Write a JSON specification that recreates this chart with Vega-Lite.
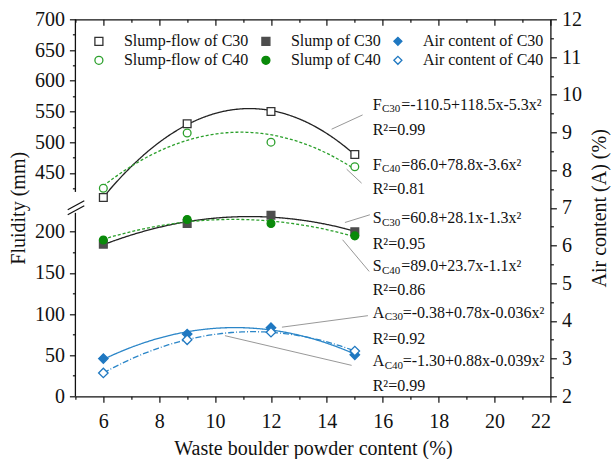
{
  "$schema": "https://vega.github.io/schema/vega-lite/v6.json",
  "width": 475,
  "height": 377,
  "autosize": "none",
  "padding": {"left": 75.4, "top": 19.3, "right": 60.6, "bottom": 62.7},
  "background": "white",
  "config": {
    "view": {"stroke": null},
    "font": "Liberation Serif",
    "axis": {
      "grid": false,
      "labelFont": "Liberation Serif",
      "labelFontSize": 20,
      "labelColor": "#111",
      "titleFont": "Liberation Serif",
      "titleFontSize": 20,
      "titleFontWeight": "normal",
      "titleColor": "#111",
      "domainColor": "#111",
      "domainWidth": 1.3,
      "tickColor": "#111",
      "tickWidth": 1.2,
      "labelOverlap": false
    },
    "legend": {
      "labelFont": "Liberation Serif",
      "labelFontSize": 16,
      "labelColor": "#111",
      "symbolSize": 64,
      "symbolStrokeWidth": 1.3,
      "labelOffset": 17,
      "columnPadding": 9,
      "rowPadding": 3,
      "padding": 0
    }
  },
  "datasets": {
    "fluid": [
      {"series": "Slump-flow of C30", "x": 6, "y": 410},
      {"series": "Slump-flow of C30", "x": 9, "y": 530},
      {"series": "Slump-flow of C30", "x": 12, "y": 550},
      {"series": "Slump-flow of C30", "x": 15, "y": 480},
      {"series": "Slump-flow of C40", "x": 6, "y": 425},
      {"series": "Slump-flow of C40", "x": 9, "y": 515},
      {"series": "Slump-flow of C40", "x": 12, "y": 500},
      {"series": "Slump-flow of C40", "x": 15, "y": 460},
      {"series": "Slump of C30", "x": 6, "y": 185},
      {"series": "Slump of C30", "x": 9, "y": 210},
      {"series": "Slump of C30", "x": 12, "y": 220},
      {"series": "Slump of C30", "x": 15, "y": 200},
      {"series": "Slump of C40", "x": 6, "y": 190},
      {"series": "Slump of C40", "x": 9, "y": 215},
      {"series": "Slump of C40", "x": 12, "y": 210},
      {"series": "Slump of C40", "x": 15, "y": 195}
    ],
    "air": [
      {"series": "Air content of C30", "x": 6, "y": 3.0},
      {"series": "Air content of C30", "x": 9, "y": 3.65},
      {"series": "Air content of C30", "x": 12, "y": 3.82},
      {"series": "Air content of C30", "x": 15, "y": 3.1},
      {"series": "Air content of C40", "x": 6, "y": 2.62},
      {"series": "Air content of C40", "x": 9, "y": 3.5},
      {"series": "Air content of C40", "x": 12, "y": 3.7},
      {"series": "Air content of C40", "x": 15, "y": 3.2}
    ],
    "axisline": [
      {"x": 5, "y": 0, "y2": 223},
      {"x": 5, "y": 419, "y2": 700}
    ],
    "breaks": [
      {"x": 4.725, "y": 6.947, "x2": 5.318, "y2": 7.186},
      {"x": 4.725, "y": 6.815, "x2": 5.318, "y2": 7.053}
    ],
    "eq": [
      {"k": "FS", "main": "F", "sub": "C30", "rest": "=-110.5+118.5x-5.3x²", "x": 15.64, "y": 9.73},
      {"k": "FS", "main": "F", "sub": "C40", "rest": "=86.0+78.8x-3.6x²", "x": 15.64, "y": 8.14},
      {"k": "FS", "main": "S", "sub": "C30", "rest": "=60.8+28.1x-1.3x²", "x": 15.64, "y": 6.72},
      {"k": "FS", "main": "S", "sub": "C40", "rest": "=89.0+23.7x-1.1x²", "x": 15.64, "y": 5.445},
      {"k": "A", "main": "A", "sub": "C30", "rest": "=-0.38+0.78x-0.036x²", "x": 15.64, "y": 4.21},
      {"k": "A", "main": "A", "sub": "C40", "rest": "=-1.30+0.88x-0.039x²", "x": 15.64, "y": 2.93}
    ],
    "r2": [
      {"t": "R²=0.99", "x": 15.64, "y": 9.07},
      {"t": "R²=0.81", "x": 15.64, "y": 7.5},
      {"t": "R²=0.95", "x": 15.64, "y": 6.05},
      {"t": "R²=0.86", "x": 15.64, "y": 4.83},
      {"t": "R²=0.92", "x": 15.64, "y": 3.52},
      {"t": "R²=0.99", "x": 15.64, "y": 2.265}
    ],
    "leaders": [
      {"x": 14.17, "y": 9.085, "x2": 15.279, "y2": 9.464},
      {"x": 14.707, "y": 8.025, "x2": 15.243, "y2": 7.654},
      {"x": 14.646, "y": 6.61, "x2": 15.54, "y2": 6.815},
      {"x": 14.563, "y": 6.152, "x2": 15.515, "y2": 5.312},
      {"x": 12.392, "y": 3.834, "x2": 15.469, "y2": 4.139},
      {"x": 10.353, "y": 3.608, "x2": 14.886, "y2": 2.821}
    ]
  },
  "layer": [
    {
      "encoding": {
        "x": {
          "field": "x", "type": "quantitative",
          "scale": {"domain": [5, 22], "nice": false, "zero": false},
          "axis": {
            "orient": "bottom",
            "title": "Waste boulder powder content (%)",
            "values": [5,6,7,8,9,10,11,12,13,14,15,16,17,18,19,20,21,22],
            "labelExpr": "datum.value % 2 == 0 ? datum.label : ''",
            "tickSize": {"condition": {"test": "datum.value % 2 == 0", "value": 6}, "value": 3},
            "labelPadding": 9,
            "titlePadding": 7
          }
        },
        "y": {
          "field": "y", "type": "quantitative",
          "scale": {"domain": [0, 234, 400, 700], "range": [377, 184.5, 184.3, 0], "nice": false, "zero": false},
          "axis": {
            "orient": "left",
            "title": "Fluidity (mm)",
            "domain": false,
            "values": [0,25,50,75,100,125,150,175,200,425,450,475,500,525,550,575,600,625,650,675,700],
            "labelExpr": "datum.value % 50 == 0 ? datum.label : ''",
            "tickSize": {"condition": {"test": "datum.value % 50 == 0", "value": 6}, "value": 3},
            "labelPadding": 5,
            "titlePadding": 6
          }
        }
      },
      "layer": [
        {
          "data": {"name": "axisline"},
          "mark": {"type": "rule", "color": "#111", "strokeWidth": 1.3},
          "encoding": {"y2": {"field": "y2"}}
        },
        {
          "data": {"name": "fluid"},
          "transform": [
            {"regression": "y", "on": "x", "method": "poly", "order": 2, "groupby": ["series"], "extent": [6, 15]}
          ],
          "mark": {"type": "line", "strokeWidth": 1.3},
          "encoding": {
            "color": {
              "field": "series", "type": "nominal", "legend": null,
              "scale": {
                "domain": ["Air content of C40", "Slump of C40", "Slump-flow of C40", "Air content of C30", "Slump of C30", "Slump-flow of C30"],
                "range": ["#2b86c8", "#2ca02c", "#2ca02c", "#2b86c8", "#222222", "#222222"]
              }
            },
            "strokeDash": {
              "field": "series", "type": "nominal", "legend": null,
              "scale": {
                "domain": ["Air content of C40", "Slump of C40", "Slump-flow of C40", "Air content of C30", "Slump of C30", "Slump-flow of C30"],
                "range": [[6, 2, 1, 2], [3, 2], [3, 2], [1, 0], [1, 0], [1, 0]]
              }
            }
          }
        },
        {
          "data": {"name": "fluid"},
          "mark": {"type": "point", "size": 60, "opacity": 1, "strokeWidth": 1.3},
          "encoding": {
            "stroke": {
              "field": "series", "type": "nominal",
              "legend": {"orient": "none", "legendX": 15.5, "legendY": 14, "columns": 3, "title": null},
              "scale": {
                "domain": ["Slump-flow of C30", "Slump-flow of C40", "Slump of C30", "Slump of C40", "Air content of C30", "Air content of C40"],
                "range": ["#333333", "#2ca02c", "#4d4d4d", "#0a8a0a", "#1f78c1", "#1f78c1"]
              }
            },
            "fill": {
              "field": "series", "type": "nominal",
              "legend": {"orient": "none", "legendX": 15.5, "legendY": 14, "columns": 3, "title": null},
              "scale": {
                "domain": ["Slump-flow of C30", "Slump-flow of C40", "Slump of C30", "Slump of C40", "Air content of C30", "Air content of C40"],
                "range": ["white", "white", "#4d4d4d", "#0a8a0a", "#1f78c1", "white"]
              }
            },
            "shape": {
              "field": "series", "type": "nominal",
              "legend": {"orient": "none", "legendX": 15.5, "legendY": 14, "columns": 3, "title": null},
              "scale": {
                "domain": ["Slump-flow of C30", "Slump-flow of C40", "Slump of C30", "Slump of C40", "Air content of C30", "Air content of C40"],
                "range": ["square", "circle", "square", "circle", "diamond", "diamond"]
              }
            }
          }
        }
      ]
    },
    {
      "encoding": {
        "x": {
          "field": "x", "type": "quantitative",
          "scale": {"domain": [5, 22], "nice": false, "zero": false},
          "axis": {
            "orient": "top",
            "title": null,
            "labels": false,
            "values": [5,6,7,8,9,10,11,12,13,14,15,16,17,18,19,20,21,22],
            "tickSize": {"condition": {"test": "datum.value % 2 == 0", "value": -6}, "value": -3}
          }
        },
        "y": {
          "field": "y", "type": "quantitative",
          "scale": {"domain": [2, 12], "nice": false, "zero": false},
          "axis": {
            "orient": "right",
            "title": "Air content (A) (%)",
            "titleAngle": -90,
            "titleBaseline": "top",
            "values": [2,2.5,3,3.5,4,4.5,5,5.5,6,6.5,7,7.5,8,8.5,9,9.5,10,10.5,11,11.5,12],
            "labelExpr": "datum.value % 1 == 0 ? format(datum.value, 'd') : ''",
            "tickSize": {"condition": {"test": "datum.value % 1 == 0", "value": 6}, "value": 3},
            "labelPadding": 5,
            "titlePadding": 8
          }
        }
      },
      "layer": [
        {
          "data": {"name": "leaders"},
          "mark": {"type": "rule", "color": "#8c8c8c", "strokeWidth": 0.9},
          "encoding": {"x2": {"field": "x2"}, "y2": {"field": "y2"}}
        },
        {
          "data": {"name": "breaks"},
          "mark": {"type": "rule", "color": "#111", "strokeWidth": 1.2},
          "encoding": {"x2": {"field": "x2"}, "y2": {"field": "y2"}}
        },
        {
          "data": {"name": "air"},
          "transform": [
            {"regression": "y", "on": "x", "method": "poly", "order": 2, "groupby": ["series"], "extent": [6, 15]}
          ],
          "mark": {"type": "line", "strokeWidth": 1.3},
          "encoding": {
            "color": {
              "field": "series", "type": "nominal", "legend": null,
              "scale": {
                "domain": ["Air content of C40", "Slump of C40", "Slump-flow of C40", "Air content of C30", "Slump of C30", "Slump-flow of C30"],
                "range": ["#2b86c8", "#2ca02c", "#2ca02c", "#2b86c8", "#222222", "#222222"]
              }
            },
            "strokeDash": {
              "field": "series", "type": "nominal", "legend": null,
              "scale": {
                "domain": ["Air content of C40", "Slump of C40", "Slump-flow of C40", "Air content of C30", "Slump of C30", "Slump-flow of C30"],
                "range": [[6, 2, 1, 2], [3, 2], [3, 2], [1, 0], [1, 0], [1, 0]]
              }
            }
          }
        },
        {
          "data": {"name": "air"},
          "mark": {"type": "point", "size": 90, "opacity": 1, "strokeWidth": 1.3},
          "encoding": {
            "stroke": {
              "field": "series", "type": "nominal",
              "legend": {"orient": "none", "legendX": 15.5, "legendY": 14, "columns": 3, "title": null},
              "scale": {
                "domain": ["Slump-flow of C30", "Slump-flow of C40", "Slump of C30", "Slump of C40", "Air content of C30", "Air content of C40"],
                "range": ["#333333", "#2ca02c", "#4d4d4d", "#0a8a0a", "#1f78c1", "#1f78c1"]
              }
            },
            "fill": {
              "field": "series", "type": "nominal",
              "legend": {"orient": "none", "legendX": 15.5, "legendY": 14, "columns": 3, "title": null},
              "scale": {
                "domain": ["Slump-flow of C30", "Slump-flow of C40", "Slump of C30", "Slump of C40", "Air content of C30", "Air content of C40"],
                "range": ["white", "white", "#4d4d4d", "#0a8a0a", "#1f78c1", "white"]
              }
            },
            "shape": {
              "field": "series", "type": "nominal",
              "legend": {"orient": "none", "legendX": 15.5, "legendY": 14, "columns": 3, "title": null},
              "scale": {
                "domain": ["Slump-flow of C30", "Slump-flow of C40", "Slump of C30", "Slump of C40", "Air content of C30", "Air content of C40"],
                "range": ["square", "circle", "square", "circle", "diamond", "diamond"]
              }
            }
          }
        },
        {
          "data": {"name": "eq"},
          "mark": {"type": "text", "align": "left", "baseline": "middle", "fontSize": 16, "color": "#111"},
          "encoding": {"text": {"field": "main"}}
        },
        {
          "data": {"name": "eq"},
          "transform": [{"filter": "datum.k == 'FS'"}],
          "mark": {"type": "text", "align": "left", "baseline": "middle", "fontSize": 11, "dx": 9.3, "dy": 4.5, "color": "#111"},
          "encoding": {"text": {"field": "sub"}}
        },
        {
          "data": {"name": "eq"},
          "transform": [{"filter": "datum.k == 'FS'"}],
          "mark": {"type": "text", "align": "left", "baseline": "middle", "fontSize": 16, "dx": 28.5, "color": "#111"},
          "encoding": {"text": {"field": "rest"}}
        },
        {
          "data": {"name": "eq"},
          "transform": [{"filter": "datum.k == 'A'"}],
          "mark": {"type": "text", "align": "left", "baseline": "middle", "fontSize": 11, "dx": 12.0, "dy": 4.5, "color": "#111"},
          "encoding": {"text": {"field": "sub"}}
        },
        {
          "data": {"name": "eq"},
          "transform": [{"filter": "datum.k == 'A'"}],
          "mark": {"type": "text", "align": "left", "baseline": "middle", "fontSize": 16, "dx": 30, "color": "#111"},
          "encoding": {"text": {"field": "rest"}}
        },
        {
          "data": {"name": "r2"},
          "mark": {"type": "text", "align": "left", "baseline": "middle", "fontSize": 16, "color": "#111"},
          "encoding": {"text": {"field": "t"}}
        }
      ]
    }
  ],
  "resolve": {
    "scale": {"y": "independent"},
    "axis": {"y": "independent", "x": "independent"}
  }
}
